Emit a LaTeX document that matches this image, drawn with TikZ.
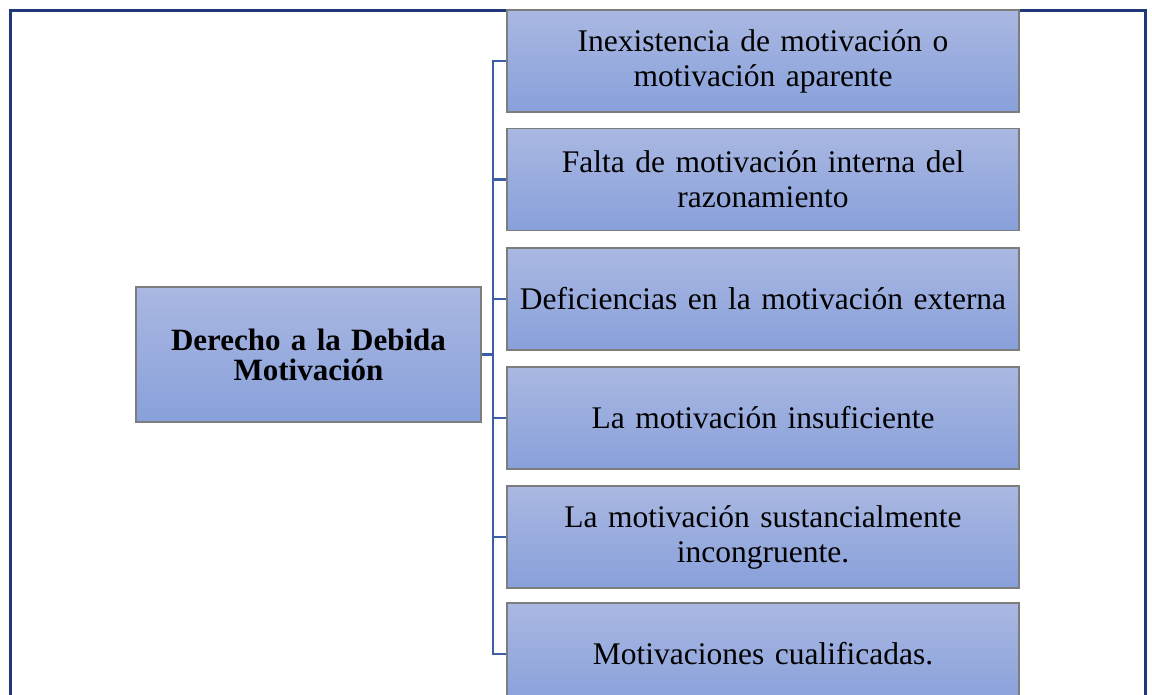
\documentclass[tikz,border=0pt]{standalone}
\usepackage{fontspec}
\setmainfont{Liberation Serif}
\usetikzlibrary{shadows}
\definecolor{framecol}{RGB}{30,56,120}
\definecolor{linkcol}{RGB}{60,94,166}
\definecolor{boxtop}{RGB}{170,184,226}
\definecolor{boxbot}{RGB}{136,160,218}
\definecolor{boxedge}{RGB}{125,125,125}
\tikzset{
  itembox/.style={draw=boxedge, line width=1.2pt, top color=boxtop, bottom color=boxbot,
    minimum width=512pt, minimum height=102pt, inner sep=0pt, text width=508pt, align=center,
    font=\fontsize{31.5}{35}\selectfont},
  rootbox/.style={draw=boxedge, line width=1.2pt, top color=boxtop, bottom color=boxbot,
    minimum width=345pt, minimum height=135pt, inner sep=0pt, text width=335pt, align=center,
    font=\fontsize{31}{30}\selectfont\bfseries},
  link/.style={draw=linkcol, line width=2.4pt},
  frameline/.style={draw=framecol, line width=3pt}
}
\begin{document}
\begin{tikzpicture}[x=1pt,y=-1pt]
\clip (0,0) rectangle (1152,695);
\draw[frameline] (10,720) -- (10,11) -- (1145,11) -- (1145,720);
\node[rootbox] (root) at (308.5,354.5) {Derecho a la Debida\\Motivación};
\node[itembox] (b1) at (763,61) {Inexistencia de motivación o\\motivación aparente};
\node[itembox] (b2) at (763,179.5) {Falta de motivación interna del\\razonamiento};
\node[itembox] (b3) at (763,299) {Deficiencias en la motivación externa};
\node[itembox] (b4) at (763,418) {La motivación insuficiente};
\node[itembox] (b5) at (763,537) {La motivación sustancialmente\\incongruente.};
\node[itembox] (b6) at (763,654) {Motivaciones cualificadas.};
\coordinate (trunk) at (493,354.5);
\draw[link] (root.east) -- (trunk);
\draw[link] (b1.west) -| (493,354.5) |- (b6.west);
\foreach \b in {b2,b3,b4,b5} \draw[link] (\b.west) -- (\b.west -| trunk);
\end{tikzpicture}
\end{document}
